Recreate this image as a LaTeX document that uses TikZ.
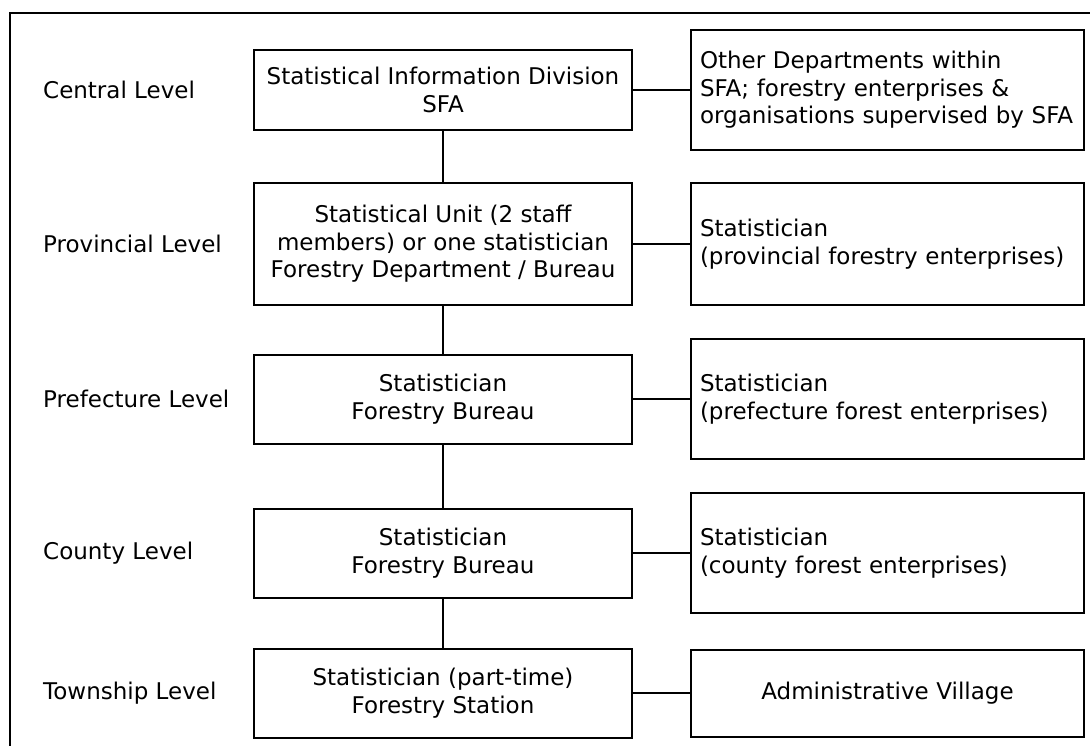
\documentclass[tikz,border=0pt]{standalone}
\usepackage{fontspec}
\setmainfont{DejaVu Sans}
\begin{document}
\begin{tikzpicture}[x=1pt,y=-1pt,
  every node/.style={font=\fontsize{23}{27.5}\selectfont},
  lbox/.style={draw,line width=2pt,rectangle,minimum width=378pt,inner sep=0pt,align=center},
  rbox/.style={draw,line width=2pt,rectangle,text width=375pt,inner xsep=9pt,inner ysep=0pt,align=left},
  lvl/.style={anchor=west,inner sep=0pt},
  conn/.style={line width=2pt}]
\useasboundingbox (0,0) rectangle (1090,746);
\draw[conn] (10,746) -- (10,13) -- (1090,13);
% levels
\node[lvl] (l1) at (43,90) {Central Level};
\node[lvl] (l2) at (43,244) {Provincial Level};
\node[lvl] (l3) at (43,399) {Prefecture Level};
\node[lvl] (l4) at (43,553) {County Level};
\node[lvl] (l5) at (43,693) {Township Level};
% left column
\node[lbox,minimum height=80pt] (c1) at (443,90) {Statistical Information Division\\SFA};
\node[lbox,minimum height=122pt] (c2) at (443,244) {Statistical Unit (2 staff\\members) or one statistician\\Forestry Department / Bureau};
\node[lbox,minimum height=89pt] (c3) at (443,399) {Statistician\\Forestry Bureau};
\node[lbox,minimum height=89pt] (c4) at (443,553) {Statistician\\Forestry Bureau};
\node[lbox,minimum height=89pt] (c5) at (443,693) {Statistician (part-time)\\Forestry Station};
% right column
\node[rbox,minimum height=120pt] (r1) at (887.5,90) {Other Departments within\\SFA; forestry enterprises \&\\organisations supervised by SFA};
\node[rbox,minimum height=121pt] (r2) at (887.5,244) {Statistician\\(provincial forestry enterprises)};
\node[rbox,minimum height=120pt] (r3) at (887.5,399) {Statistician\\(prefecture forest enterprises)};
\node[rbox,minimum height=120pt] (r4) at (887.5,553) {Statistician\\(county forest enterprises)};
\node[rbox,minimum height=87pt,align=center] (r5) at (887.5,693) {Administrative Village};
% connectors
\draw[conn] (c1) -- (c2);
\draw[conn] (c2) -- (c3);
\draw[conn] (c3) -- (c4);
\draw[conn] (c4) -- (c5);
\draw[conn] (c1.east) -- (c1.east -| r1.west);
\draw[conn] (c2.east) -- (c2.east -| r2.west);
\draw[conn] (c3.east) -- (c3.east -| r3.west);
\draw[conn] (c4.east) -- (c4.east -| r4.west);
\draw[conn] (c5.east) -- (c5.east -| r5.west);
\end{tikzpicture}
\end{document}
